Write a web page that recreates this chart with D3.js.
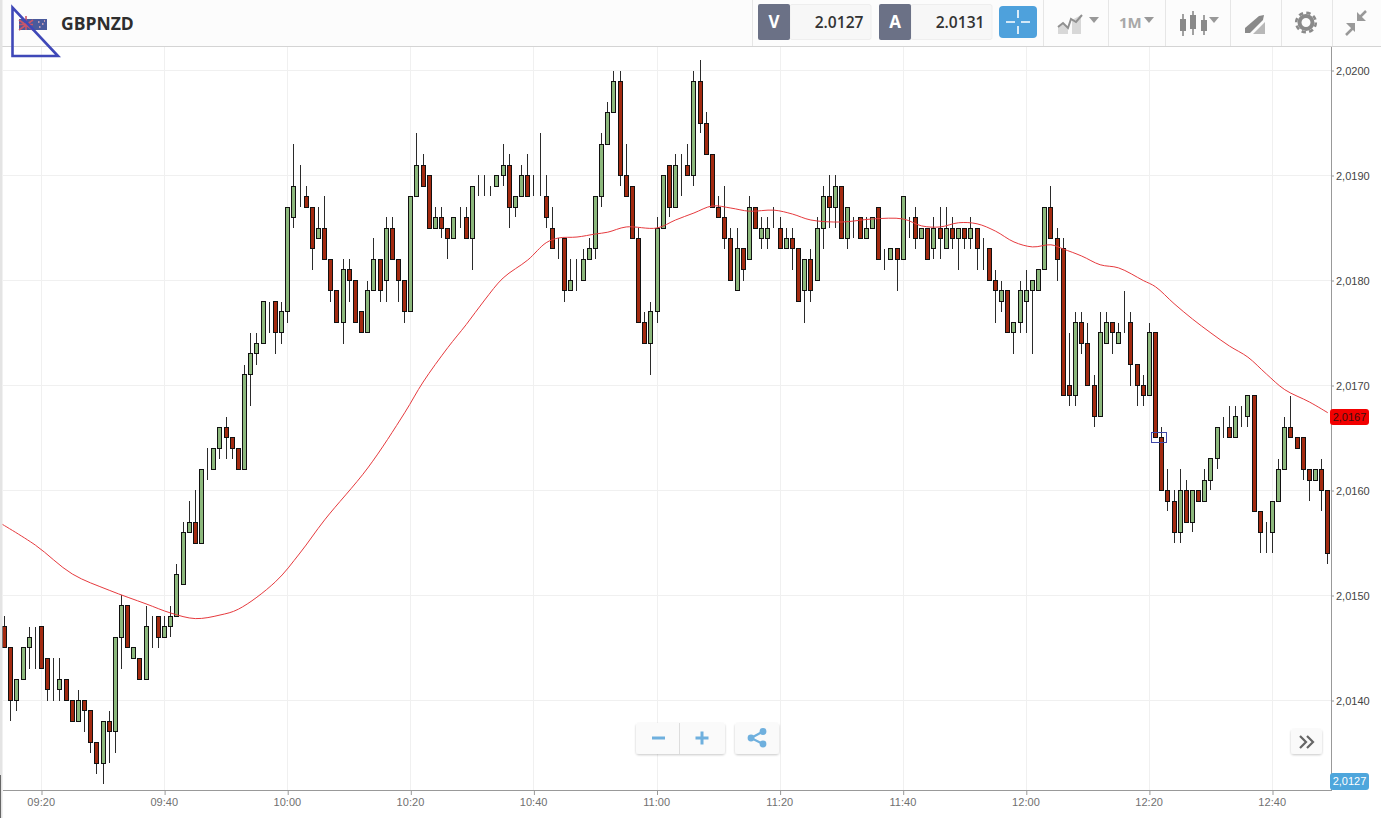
<!DOCTYPE html>
<html><head><meta charset="utf-8">
<script src="https://cdn.jsdelivr.net/npm/d3@7/dist/d3.min.js"></script>
<style>
html,body{margin:0;padding:0;background:#fff;overflow:hidden}
svg{display:block}
.ax text{font-family:"Liberation Sans",Arial,sans-serif;font-size:11px}
.ui{font-family:"Open Sans",sans-serif}
</style></head><body>
<svg id="c" width="1381" height="818"></svg>
<script>
// prices are expressed as 1/10000 above 2.0000 (e.g. 147 = 2.0147)
const startMinute = 554; // 09:14
const opens = [147,145,140,142,145,146,147,144,141,141,142,140,138,140,139,136,134,138,137,146,149,144,144,142,148,148,146,147,148,151,156,157,155,162,162,164,166,165,164,162,171,173,174,178,178,175,177,186,189,188,187,184,185,182,179,176,181,180,177,175,179,182,180,185,182,180,177,188,191,190,185,186,185,184,186,186,184,189,189,189,189,190,191,187,188,190,188,188,188,185,184,184,179,180,180,182,183,188,193,196,199,190,189,184,176,174,177,185,191,187,190,191,190,199,195,192,187,186,184,179,183,182,187,184,184,185,185,183,184,183,179,182,180,185,188,187,189,184,186,186,184,185,187,182,182,183,182,186,186,184,185,183,185,183,185,184,185,184,185,183,183,180,178,179,175,176,178,179,179,181,187,184,183,170,169,176,174,170,167,174,176,174,175,176,172,170,169,175,165,160,159,156,160,157,160,159,161,163,166,166,165,167,167,169,158,156,156,159,162,166,165,165,162,161,162,160];
const closes = [145,140,142,145,146,146,143,141,141,142,140,138,140,139,136,134,138,137,146,149,145,145,142,147,148,146,147,148,152,156,157,155,162,162,164,166,165,164,162,171,173,174,178,178,175,177,187,189,189,187,183,185,182,179,176,181,180,176,175,179,182,179,185,182,180,177,188,191,189,185,186,185,184,186,186,184,189,189,189,189,190,191,187,188,190,188,188,188,186,183,184,179,180,180,182,183,188,193,196,199,190,188,184,176,174,177,185,190,187,191,190,190,199,195,192,187,186,184,180,183,181,187,185,185,185,185,183,184,183,178,182,179,185,188,187,189,184,187,186,184,185,186,182,182,183,182,188,186,184,185,182,185,184,185,184,185,184,185,183,183,180,179,179,175,176,179,179,180,181,187,184,182,169,169,176,174,170,167,175,176,175,175,175,172,170,169,175,165,160,159,156,160,157,160,159,161,163,166,166,165,167,167,169,158,156,156,159,162,166,165,164,162,161,162,160,154];
const highs = [148,145,142,145,147,147,147,144,144,144,142,140,141,140,139,136,138,139,146,150,149,145,144,149,148,148,148,149,153,157,159,160,162,164,164,166,167,165,164,172,175,175,178,178,178,178,187,193,191,189,187,187,188,182,179,182,182,180,177,180,184,182,186,186,182,180,188,194,192,190,187,187,185,186,187,187,189,190,190,189,190,193,192,188,191,192,190,194,190,187,184,184,182,182,183,184,188,194,197,200,200,193,189,185,177,178,186,190,191,192,192,193,200,201,196,192,188,189,185,185,183,188,187,186,186,187,186,185,185,183,182,183,186,189,190,190,189,187,186,186,186,186,187,183,183,183,188,186,187,185,185,186,187,187,186,185,185,186,185,184,183,181,180,179,176,180,181,180,181,187,189,185,184,175,177,177,176,171,177,177,176,176,179,177,172,171,176,175,166,162,160,162,161,160,160,162,163,166,167,168,168,168,169,169,158,157,159,163,167,169,165,165,162,162,163,160];
const lows = [145,138,139,142,143,143,143,140,140,140,140,138,138,137,135,133,132,134,135,143,145,144,142,142,145,145,146,146,148,151,156,155,155,161,162,163,163,163,162,162,168,172,174,175,173,174,176,185,187,187,181,184,182,178,176,174,178,176,175,175,179,178,178,182,178,176,177,188,189,185,185,184,182,184,185,184,181,188,188,188,189,189,185,186,188,188,188,188,185,183,182,178,179,179,180,182,182,187,193,196,189,188,184,176,174,171,176,185,186,187,188,190,189,194,192,187,186,183,180,179,180,182,185,183,183,185,183,183,181,178,176,178,180,183,185,185,184,183,184,184,184,185,182,181,182,179,182,184,183,184,182,182,182,183,183,181,183,183,181,181,180,176,177,175,173,175,175,173,179,181,184,180,169,168,168,173,170,166,167,174,173,174,175,170,168,168,169,165,160,158,155,155,157,156,159,159,160,162,165,165,165,166,166,158,154,154,154,159,162,165,164,161,159,161,158,153];
const maMinutes = [553,559,565,571,577,581,585,589,592,598,602,606,613,619,622,626,629,632,635,639,642,644,647,650,652,655,660,663,666,669,672,675,679,682,685,690,695,700,703,706,709,712,715,718,721,724,726,729,732,735,739,741,744,747,750,753,756,759,762,766,769];
const maValues = [157.0,154.8,152.05,150.5,149.2,148.33,147.8,148.14,148.7,151.3,154.05,157.2,162.14,167.4,170.33,173.6,175.8,178.14,180.24,181.95,183.6,184.05,184.14,184.43,184.6,185.1,185.0,185.76,186.43,187.1,186.9,186.6,186.7,186.33,185.76,185.57,185.86,185.86,185.2,185.1,185.5,185.4,184.7,183.67,183.2,183.4,183.0,182.33,181.5,181.2,180.0,179.4,177.8,176.33,175.0,173.76,172.7,171.1,169.6,168.43,167.4];
const priceTicks = [2.014,2.015,2.016,2.017,2.018,2.019,2.02];
const timeTicks = [560,580,600,620,640,660,680,700,720,740,760];
const timeLabels = ["09:20","09:40","10:00","10:20","10:40","11:00","11:20","11:40","12:00","12:20","12:40"];
const symbol = "GBPNZD", bid = "2.0127", ask = "2.0131";
const maLast = 2.0167, bidLast = 2.0127, markerPrice = 165;

const W=1381,H=818,L=3,R=1331,T=47,B=790;
const svg=d3.select("#c");
const x=d3.scaleLinear().domain([560,760]).range([41.5,1272.5]);
const y=d3.scaleLinear().domain([2.014,2.02]).range([700.5,70.5]);
const py=p=>y(2+p/10000);
const snap=v=>Math.floor(v)+0.5;
const comma=d3.formatLocale({decimal:",",thousands:".",grouping:[3],currency:["",""]}).format(".4f");

svg.append("rect").attr("width",W).attr("height",H).attr("fill","#fff");
// grid
const grid=svg.append("g").attr("stroke","#f0f0f0").attr("stroke-width",1);
grid.selectAll("line.h").data(priceTicks).join("line").attr("class","h")
  .attr("x1",L).attr("x2",R).attr("y1",d=>snap(y(d))).attr("y2",d=>snap(y(d)));
grid.selectAll("line.v").data(timeTicks).join("line").attr("class","v")
  .attr("x1",d=>snap(x(d))).attr("x2",d=>snap(x(d))).attr("y1",T).attr("y2",B);

// candles
const idx=d3.range(opens.length);
const cx=i=>snap(x(startMinute+i));
const candles=svg.append("g");
candles.selectAll("line").data(idx).join("line")
  .attr("x1",cx).attr("x2",cx)
  .attr("y1",i=>Math.round(py(highs[i]))).attr("y2",i=>Math.round(py(lows[i])))
  .attr("stroke","#2b2b2b").attr("stroke-width",1);
candles.selectAll("rect").data(idx).join("rect")
  .attr("x",i=>cx(i)-2).attr("width",4)
  .attr("y",i=>snap(py(Math.max(opens[i],closes[i]))))
  .attr("height",i=>Math.abs(snap(py(opens[i]))-snap(py(closes[i]))))
  .attr("fill",i=>closes[i]>=opens[i]?"#8cb87c":"#a32a10")
  .attr("stroke","#111").attr("stroke-width",1);

// moving average
svg.append("clipPath").attr("id","cp").append("rect").attr("x",0).attr("y",T).attr("width",R).attr("height",B-T);
svg.append("path").attr("clip-path","url(#cp)")
  .datum(maMinutes.map((m,i)=>[m,maValues[i]]))
  .attr("fill","none").attr("stroke","#e63a3e").attr("stroke-width",1)
  .attr("d",d3.line().x(d=>x(d[0])).y(d=>py(d[1])).curve(d3.curveCatmullRom));

// marker square
const mx=x(startMinute+187.5);
svg.append("rect").attr("x",snap(mx)-7).attr("y",snap(py(markerPrice))-5).attr("width",15).attr("height",10)
  .attr("fill","none").attr("stroke","#3f48a8").attr("stroke-width",1);

// axes
const gx=svg.append("g").attr("class","ax").attr("transform",`translate(0,${B})`)
  .call(d3.axisBottom(x).tickValues(timeTicks).tickFormat((d,i)=>timeLabels[i]).tickSize(5).tickPadding(3));
gx.select(".domain").remove();
gx.selectAll("line").attr("stroke","#999");
gx.selectAll("text").attr("fill","#707070").attr("dx",-0.8).attr("letter-spacing",0.05);
const gy=svg.append("g").attr("class","ax").attr("transform",`translate(${R},0)`)
  .call(d3.axisRight(y).tickValues(priceTicks).tickFormat(comma).tickSize(3).tickPadding(2));
gy.select(".domain").remove();
gy.selectAll("line").attr("stroke","#999");
gy.selectAll("text").attr("fill","#444");
svg.append("line").attr("x1",L).attr("x2",R+1).attr("y1",B+0.5).attr("y2",B+0.5).attr("stroke","#999");
svg.append("line").attr("x1",R+0.5).attr("x2",R+0.5).attr("y1",T).attr("y2",B).attr("stroke","#999");

// price tags
function tag(price,fill,col,top){
  const yy=top==null?y(price)-8:top;
  svg.append("rect").attr("x",1330).attr("y",yy).attr("width",39).attr("height",top==null?16:17).attr("rx",3).attr("fill",fill);
  svg.append("text").attr("x",1349.5).attr("y",yy+12).attr("text-anchor","middle").attr("fill",col)
    .style("font-family","'Liberation Sans',sans-serif").style("font-size","11px").text(comma(price));
}
tag(maLast,"#f20000","#3a1010",null);
tag(bidLast,"#4ea6dc","#fff",773);

// left strip
svg.append("rect").attr("x",0).attr("y",47).attr("width",2.5).attr("height",771).attr("fill","#e4e4e4");
svg.append("rect").attr("x",0).attr("y",775).attr("width",1).attr("height",43).attr("fill","#666");

// header
const ui=svg.append("g").attr("class","ui");
ui.append("rect").attr("width",W).attr("height",46).attr("fill","#fcfcfc");
ui.append("line").attr("x1",0).attr("x2",W).attr("y1",46.5).attr("y2",46.5).attr("stroke","#d4d4d4");
ui.append("rect").attr("x",0).attr("y",0).attr("width",2.5).attr("height",47).attr("fill","#e4e4e4");
// flag
ui.append("rect").attr("x",19).attr("y",19).attr("width",28).attr("height",11).attr("fill","#4a5a9c");
ui.append("path").attr("d","M19 20L33 30M33 20L19 30M26 16V30M19 24.5H33").attr("stroke","#c8566a").attr("stroke-width",1.6);
ui.append("path").attr("d","M38 22h1.5M42 24h1.5M39 27h1.5M44 21h1").attr("stroke","#e8b0b8").attr("stroke-width",1.5);
ui.append("text").attr("x",61).attr("y",30).attr("fill","#2e2e2e").style("font-size","17.5px").style("font-weight",700).text(symbol);
// separators
[752,1043,1108,1165,1230,1281,1332].forEach(v=>ui.append("line").attr("x1",v+.5).attr("x2",v+.5).attr("y1",0).attr("y2",46).attr("stroke","#e6e6e6"));
// bid / ask
[[758,"V",bid],[879,"A",ask]].forEach(([bx,l,v])=>{
  ui.append("rect").attr("x",bx+32).attr("y",4.5).attr("width",81).attr("height",35).attr("rx",2).attr("fill","#f7f7f7").attr("stroke","#eee");
  ui.append("rect").attr("x",bx).attr("y",4).attr("width",32).attr("height",36).attr("rx",2).attr("fill","#6b7186");
  ui.append("text").attr("x",bx+16).attr("y",28).attr("text-anchor","middle").attr("fill","#fff").style("font-size","17px").style("font-weight",700).text(l);
  ui.append("text").attr("x",bx+105.5).attr("y",28).attr("text-anchor","end").attr("fill","#333").style("font-size","15.6px").style("font-weight",600).text(v);
});
// crosshair
ui.append("rect").attr("x",999).attr("y",6).attr("width",38).attr("height",32).attr("rx",4).attr("fill","#4ea1dc");
ui.append("path").attr("d","M1006 22h9M1021 22h9M1018 10v8M1018 26v8").attr("stroke","#fff").attr("stroke-width",1.6);
// dropdown arrows
[1094,1149,1214].forEach(v=>ui.append("path").attr("d",`M${v-5} 17h10l-5 6z`).attr("fill","#999"));
// chart-type icon
ui.append("path").attr("d","M1058 34v-7l5-4 5 4v7zM1072 34v-14l9-5v19z").attr("fill","#d8d8d8");
ui.append("path").attr("d","M1058 27l5-4 5 5 3-9 5 3 6-7").attr("fill","none").attr("stroke","#909090").attr("stroke-width",2);
ui.append("text").attr("x",1119).attr("y",28).attr("fill","#a8a8a8").style("font-size","15px").style("font-weight",700).text("1M");
// candle icon
ui.append("path").attr("d","M1183 14v22M1193 11v24M1204 15v20").attr("stroke","#8a8a8a").attr("stroke-width",1.6);
ui.append("rect").attr("x",1180).attr("y",19).attr("width",6).attr("height",12).attr("fill","#8a8a8a");
ui.append("rect").attr("x",1190).attr("y",15).attr("width",6).attr("height",14).attr("fill","#8a8a8a");
ui.append("rect").attr("x",1201).attr("y",20).attr("width",6).attr("height",11).attr("fill","#8a8a8a");
// pen icon
ui.append("path").attr("d","M1245 28l14-12 5-1-1 5-13 13h-5z").attr("fill","#8a8a8a");
ui.append("path").attr("d","M1253 34l12-12v12z").attr("fill","#b8b8b8");
// gear
ui.append("circle").attr("cx",1306).attr("cy",22.5).attr("r",6.5).attr("fill","none").attr("stroke","#8a8a8a").attr("stroke-width",4);
ui.append("circle").attr("cx",1306).attr("cy",22.5).attr("r",9.8).attr("fill","none").attr("stroke","#8a8a8a").attr("stroke-width",2.6).attr("stroke-dasharray","4.4 3.3");
// compress
ui.append("path").attr("d","M1358 19l8-8M1354 27l-8 8").attr("stroke","#999").attr("stroke-width",2.5);
ui.append("path").attr("d","M1357 12v9h9zM1355 32v-9h-9z").attr("fill","#999");

// zoom buttons
const btn=svg.append("g");
const defs=svg.append("defs");
const f=defs.append("filter").attr("id","sh").attr("x","-20%").attr("y","-20%").attr("width","140%").attr("height","150%");
f.append("feDropShadow").attr("dx",0).attr("dy",1).attr("stdDeviation",1).attr("flood-color","#000").attr("flood-opacity",.22);
[[636,723,89,31],[735,723,44,31],[1291,729,31,25]].forEach(([a,b,w,h])=>
  btn.append("rect").attr("x",a).attr("y",b).attr("width",w).attr("height",h).attr("rx",3).attr("fill","#fafafa").attr("filter","url(#sh)"));
btn.append("line").attr("x1",679.5).attr("x2",679.5).attr("y1",723).attr("y2",754).attr("stroke","#ddd");
btn.append("path").attr("d","M652 738h13M695.5 738h13M702 731.5v13").attr("stroke","#6fb0de").attr("stroke-width",3);
btn.append("path").attr("d","M763 731.5L751 738L763 744").attr("fill","none").attr("stroke","#6fb0de").attr("stroke-width",2.2);
[[763,731.5],[751,738],[763,744]].forEach(([a,b])=>btn.append("circle").attr("cx",a).attr("cy",b).attr("r",3.4).attr("fill","#6fb0de"));
btn.append("path").attr("d","M1300 736l6 6-6 6M1307 736l6 6-6 6").attr("fill","none").attr("stroke","#666").attr("stroke-width",2.2);

// drawn triangle
svg.append("path").attr("d","M12.5 7.5V56H58Z").attr("fill","none").attr("stroke","#3f48b8").attr("stroke-width",2.6);
</script></body></html>
